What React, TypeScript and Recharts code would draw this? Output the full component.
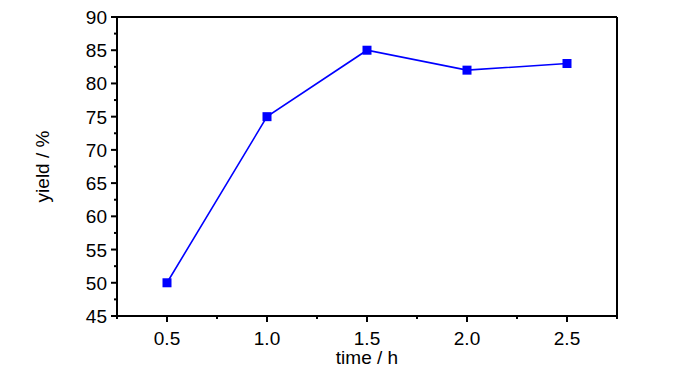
import React from 'react'
import { LineChart, Line, XAxis, YAxis, ReferenceLine } from 'recharts'

const times = [0.5, 1.0, 1.5, 2.0, 2.5]
const yields = [50, 75, 85, 82, 83]
const xTicks = [0.25, 0.5, 0.75, 1.0, 1.25, 1.5, 1.75, 2.0, 2.25, 2.5, 2.75]
const yTicks = [45, 47.5, 50, 52.5, 55, 57.5, 60, 62.5, 65, 67.5, 70, 72.5, 75, 77.5, 80, 82.5, 85, 87.5, 90]

const data = times.map((t, i) => ({ time: t, yield: yields[i] }))

const FONT = '"Liberation Sans", Arial, sans-serif'

const XTick = (props: any) => {
  const { x, y, payload } = props
  const v = payload.value as number
  const major = Math.abs((v * 2) % 1) < 1e-6
  return (
    <g>
      <line x1={x} y1={y} x2={x} y2={y + (major ? 6 : 3)} stroke="#000" strokeWidth={2} />
      {major && v > 0.3 && v < 2.7 && (
        <text x={x} y={y + 29} textAnchor="middle" fontSize={19} fontFamily={FONT} fill="#000">
          {v.toFixed(1)}
        </text>
      )}
    </g>
  )
}

const YTick = (props: any) => {
  const { x, y, payload } = props
  const v = payload.value as number
  const major = v % 5 === 0
  return (
    <g>
      <line x1={x} y1={y} x2={x - (major ? 6 : 3)} y2={y} stroke="#000" strokeWidth={2} />
      {major && (
        <text x={x - 10} y={y + 7} textAnchor="end" fontSize={19} fontFamily={FONT} fill="#000">
          {v}
        </text>
      )}
    </g>
  )
}

const SquareDot = (props: any) => {
  const { cx, cy } = props
  if (cx == null || cy == null) return null
  return <rect x={cx - 4.5} y={cy - 4.5} width={9} height={9} fill="#0000ff" />
}

export default function App() {
  return (
    <div style={{ position: 'absolute', left: 0, top: 0, width: 700, height: 374, background: '#fff' }}>
      <LineChart width={700} height={374} data={data} margin={{ top: 17, right: 83, bottom: 0, left: 0 }}>
        <XAxis
          dataKey="time"
          type="number"
          domain={[0.25, 2.75]}
          ticks={xTicks}
          interval={0}
          height={58}
          tickSize={0}
          tickMargin={0}
          axisLine={{ stroke: '#000', strokeWidth: 2 }}
          tick={<XTick />}
          label={{
            content: ({ viewBox }: any) => (
              <text
                x={viewBox.x + viewBox.width / 2}
                y={viewBox.y + 48}
                textAnchor="middle"
                fontSize={19}
                fontFamily={FONT}
                fill="#000"
              >
                time / h
              </text>
            ),
          }}
        />
        <YAxis
          dataKey="yield"
          type="number"
          domain={[45, 90]}
          ticks={yTicks}
          interval={0}
          width={117}
          tickSize={0}
          tickMargin={0}
          axisLine={{ stroke: '#000', strokeWidth: 2 }}
          tick={<YTick />}
          label={{
            content: ({ viewBox }: any) => {
              const cx = viewBox.x + 49
              const cy = viewBox.y + viewBox.height / 2
              return (
                <text
                  x={cx}
                  y={cy}
                  transform={`rotate(-90 ${cx} ${cy})`}
                  textAnchor="middle"
                  fontSize={19}
                  fontFamily={FONT}
                  fill="#000"
                >
                  yield / %
                </text>
              )
            },
          }}
        />
        <ReferenceLine y={90} stroke="#000" strokeWidth={2} ifOverflow="visible" />
        <ReferenceLine x={2.75} stroke="#000" strokeWidth={2} ifOverflow="visible" />
        <Line
          dataKey="yield"
          stroke="#0000ff"
          strokeWidth={1.6}
          dot={<SquareDot />}
          activeDot={false}
          isAnimationActive={false}
        />
      </LineChart>
    </div>
  )
}
